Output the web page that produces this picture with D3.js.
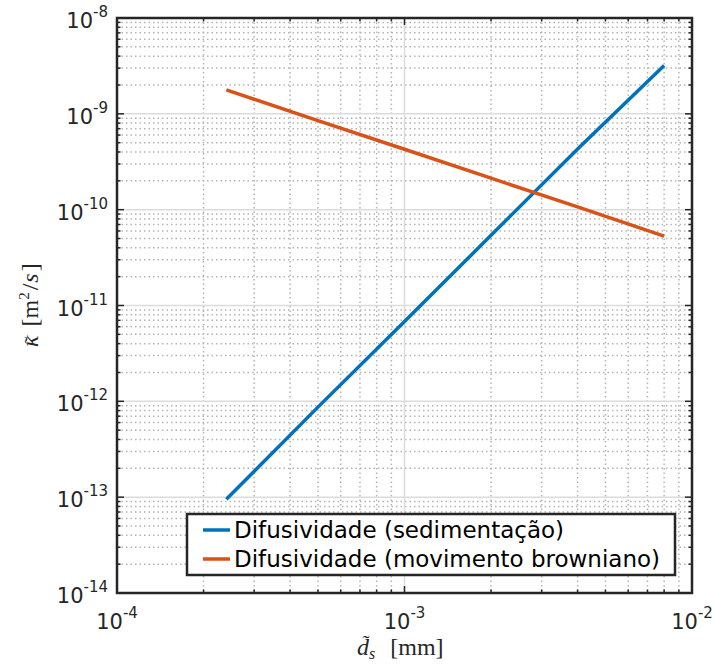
<!DOCTYPE html>
<html>
<head>
<meta charset="utf-8">
<script src="https://cdn.jsdelivr.net/npm/d3@7"></script>
<style>
  body { margin: 0; background: #fff; }
  svg { display: block; }
</style>
</head>
<body>
<div id="chart"></div>
<script>
// ── Data ──
const diam = [2.4e-4, 5e-4, 1e-3, 2e-3, 4e-3, 8e-3];
const kappaSed = [9.5e-14, 8.7e-13, 6.8e-12, 5.4e-11, 4.3e-10, 3.2e-9];
const kappaBrown = [1.78e-9, 8.5e-10, 4.27e-10, 2.13e-10, 1.07e-10, 5.3e-11];
const seriesNames = ["Difusividade (sedimentação)", "Difusividade (movimento browniano)"];
const xTicks = [1e-4, 1e-3, 1e-2];
const yTicks = [1e-14, 1e-13, 1e-12, 1e-11, 1e-10, 1e-9, 1e-8];

const W = 715, H = 667;
const M = { t: 18, r: 23, b: 74, l: 117 };
const w = W - M.l - M.r;
const h = H - M.t - M.b;

const COL = { blue: "#0072BD", orange: "#D95319", axis: "#262626" };
const SANS = '"DejaVu Sans"';
const SERIF = '"Liberation Serif"';

const svg = d3.select("#chart").append("svg")
  .attr("width", W).attr("height", H);

const g = svg.append("g").attr("transform", `translate(${M.l},${M.t})`);

const x = d3.scaleLog().domain([1e-4, 1e-2]).range([0, w]);
const y = d3.scaleLog().domain([1e-14, 1e-8]).range([h, 0]);

// minor values per decade
function minors(lo, hi) {
  const out = [];
  for (let e = Math.log10(lo); e < Math.log10(hi); e++)
    for (let k = 2; k <= 9; k++) out.push(k * Math.pow(10, e));
  return out;
}
const xMinor = minors(1e-4, 1e-2);
const yMinor = minors(1e-14, 1e-8);

// ── Grid ──
const grid = g.append("g");
grid.selectAll(".gxm").data(xMinor).enter().append("line")
  .attr("x1", d => x(d)).attr("x2", d => x(d)).attr("y1", 0).attr("y2", h)
  .attr("stroke", "#b4b4b4").attr("stroke-width", 1.5).attr("stroke-dasharray", "1.5,3");
grid.selectAll(".gym").data(yMinor).enter().append("line")
  .attr("y1", d => y(d)).attr("y2", d => y(d)).attr("x1", 0).attr("x2", w)
  .attr("stroke", "#b4b4b4").attr("stroke-width", 1.5).attr("stroke-dasharray", "1.5,3");
grid.selectAll(".gx").data(xTicks).enter().append("line")
  .attr("x1", d => x(d)).attr("x2", d => x(d)).attr("y1", 0).attr("y2", h)
  .attr("stroke", "#dcdcdc").attr("stroke-width", 1.5);
grid.selectAll(".gy").data(yTicks).enter().append("line")
  .attr("y1", d => y(d)).attr("y2", d => y(d)).attr("x1", 0).attr("x2", w)
  .attr("stroke", "#dcdcdc").attr("stroke-width", 1.5);

// ── Lines ──
const line = d3.line().x(d => x(d[0])).y(d => y(d[1]));
[[kappaSed, COL.blue], [kappaBrown, COL.orange]].forEach(([vals, c]) => {
  g.append("path")
    .datum(diam.map((d, i) => [d, vals[i]]))
    .attr("d", line)
    .attr("fill", "none")
    .attr("stroke", c)
    .attr("stroke-width", 3.5);
});

// ── Ticks (inside, on all four sides) ──
const tk = g.append("g").attr("stroke", COL.axis).attr("stroke-width", 1.5);
function tickLines(vals, len) {
  vals.forEach(v => {
    tk.append("line").attr("x1", x(v)).attr("x2", x(v)).attr("y1", h).attr("y2", h - len);
    tk.append("line").attr("x1", x(v)).attr("x2", x(v)).attr("y1", 0).attr("y2", len);
  });
}
function tickLinesY(vals, len) {
  vals.forEach(v => {
    tk.append("line").attr("y1", y(v)).attr("y2", y(v)).attr("x1", 0).attr("x2", len);
    tk.append("line").attr("y1", y(v)).attr("y2", y(v)).attr("x1", w).attr("x2", w - len);
  });
}
tickLines(xTicks, 7);
tickLines(xMinor, 3.5);
tickLinesY(yTicks, 7);
tickLinesY(yMinor, 3.5);

// box
g.append("rect").attr("width", w).attr("height", h)
  .attr("fill", "none").attr("stroke", COL.axis).attr("stroke-width", 2.5);

// ── Tick labels ──
function powLabel(sel, v) {
  const e = Math.round(Math.log10(v));
  sel.append("tspan").text("10");
  sel.append("tspan").attr("dy", -11).style("font-size", "15px").text(e);
}
yTicks.forEach(v => {
  const t = g.append("text")
    .attr("x", -9).attr("y", y(v) + 10)
    .attr("text-anchor", "end")
    .style("font-family", SANS).style("font-size", "21px")
    .attr("fill", COL.axis);
  powLabel(t, v);
});
xTicks.forEach(v => {
  const t = g.append("text")
    .attr("x", x(v)).attr("y", h + 36)
    .attr("text-anchor", "middle")
    .style("font-family", SANS).style("font-size", "21px")
    .attr("fill", COL.axis);
  powLabel(t, v);
});

// ── Axis labels (LaTeX-like), laid out piece by piece ──
function mathLabel(parent, pieces) {
  let cx = 0;
  pieces.forEach(p => {
    const t = parent.append("text")
      .attr("x", cx + (p.dx || 0)).attr("y", p.dy || 0)
      .style("font-family", SERIF).style("font-size", (p.size || 24) + "px")
      .style("font-style", p.italic ? "italic" : "normal")
      .attr("fill", COL.axis)
      .text(p.s);
    const len = t.node().getComputedTextLength();
    if (p.tilde) {
      parent.append("text")
        .attr("x", cx + len / 2 + p.tilde[0]).attr("y", p.tilde[1])
        .attr("text-anchor", "middle")
        .style("font-family", SERIF).style("font-size", "21px")
        .attr("fill", COL.axis).text("\u02DC");
    }
    cx += len + (p.dx || 0) + (p.gap || 0);
  });
}

const xl = svg.append("g").attr("transform", "translate(357,655)");
mathLabel(xl, [
  { s: "d", italic: true, tilde: [3, -5] },
  { s: "s", italic: true, size: 16, dy: 4, gap: 15 },
  { s: "[mm]" }
]);

const yl = svg.append("g").attr("transform", "translate(38,347) rotate(-90)");
mathLabel(yl, [
  { s: "\u03BA", italic: true, tilde: [1, 1], gap: 9 },
  { s: "[m" },
  { s: "2", size: 15, dy: -9, gap: 2 },
  { s: "/", gap: 1 },
  { s: "s", italic: true, gap: 2 },
  { s: "]" }
]);

// ── Legend ──
const lg = svg.append("g").attr("transform", "translate(187,514)");
lg.append("rect").attr("width", 488).attr("height", 61)
  .attr("fill", "#fff").attr("stroke", COL.axis).attr("stroke-width", 2.5);
[COL.blue, COL.orange].forEach((c, i) => {
  const yy = 16 + i * 29;
  lg.append("line").attr("x1", 16).attr("x2", 43).attr("y1", yy).attr("y2", yy)
    .attr("stroke", c).attr("stroke-width", 3.5);
  lg.append("text").attr("x", 47).attr("y", yy + 8)
    .style("font-family", SANS).style("font-size", "23px").attr("fill", "#000")
    .text(seriesNames[i]);
});
</script>
</body>
</html>
